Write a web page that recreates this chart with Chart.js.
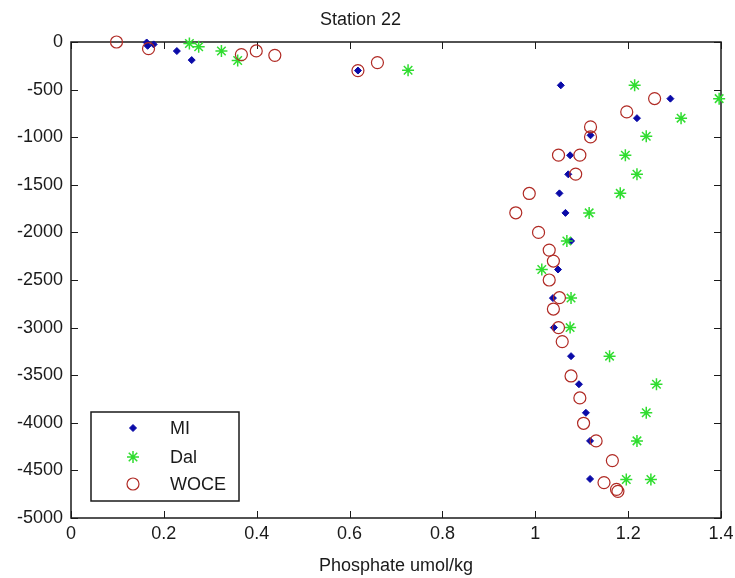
<!DOCTYPE html>
<html>
<head>
<meta charset="utf-8">
<title>Station 22</title>
<script src="https://cdn.jsdelivr.net/npm/chart.js@4.4.1/dist/chart.umd.min.js"></script>
<style>
  html, body { margin: 0; padding: 0; background: #fff; }
  canvas { display: block; }
</style>
</head>
<body>
<canvas id="myChart" width="735" height="578"></canvas>
<script>
// values (phosphate umol/kg vs depth)
const miX = [0.163, 0.165, 0.178, 0.228, 0.260, 0.618, 1.055, 1.291, 1.219, 1.119, 1.075, 1.071, 1.052, 1.065, 1.077, 1.049, 1.038, 1.040, 1.077, 1.094, 1.109, 1.118, 1.118];
const miY = [-5, -40, -25, -95, -190, -300, -455, -595, -800, -980, -1190, -1390, -1590, -1795, -2090, -2390, -2690, -3000, -3300, -3595, -3895, -4190, -4590];

const dalX = [0.255, 0.275, 0.324, 0.359, 0.726, 1.214, 1.396, 1.314, 1.239, 1.194, 1.219, 1.183, 1.116, 1.068, 1.014, 1.077, 1.075, 1.160, 1.261, 1.239, 1.219, 1.196, 1.249];
const dalY = [-15, -50, -95, -195, -297, -455, -595, -800, -990, -1190, -1390, -1590, -1795, -2090, -2390, -2690, -3000, -3300, -3595, -3895, -4190, -4595, -4595];

const woceX = [0.098, 0.167, 0.367, 0.399, 0.439, 0.618, 0.660, 1.257, 1.197, 1.119, 1.119, 1.050, 1.096, 1.087, 0.987, 0.958, 1.007, 1.030, 1.039, 1.030, 1.052, 1.039, 1.050, 1.058, 1.077, 1.096, 1.104, 1.131, 1.166, 1.148, 1.175, 1.178];
const woceY = [0, -70, -132, -94, -140, -300, -216, -594, -734, -892, -997, -1189, -1189, -1388, -1591, -1794, -2000, -2186, -2301, -2500, -2686, -2805, -3000, -3147, -3508, -3739, -4005, -4190, -4397, -4628, -4700, -4720];

const xTicks = [0, 0.2, 0.4, 0.6, 0.8, 1, 1.2, 1.4];
const yTicks = [0, -500, -1000, -1500, -2000, -2500, -3000, -3500, -4000, -4500, -5000];

const FONT = "'Liberation Sans', Arial, sans-serif";
const INK = '#1a1a1a';

function pairs(xs, ys) {
  return xs.map((x, i) => ({ x: x, y: ys[i] }));
}

// matlab style box with inward ticks on all four sides
const boxPlugin = {
  id: 'boxPlugin',
  beforeDatasetsDraw(chart) {
    const { ctx, chartArea: a, scales } = chart;
    const len = 7;
    ctx.save();
    ctx.strokeStyle = INK;
    ctx.lineWidth = 1;
    ctx.beginPath();
    xTicks.forEach(v => {
      const px = Math.round(scales.x.getPixelForValue(v)) + 0.5;
      ctx.moveTo(px, a.bottom); ctx.lineTo(px, a.bottom - len);
      ctx.moveTo(px, a.top); ctx.lineTo(px, a.top + len);
    });
    yTicks.forEach(v => {
      const py = Math.round(scales.y.getPixelForValue(v)) + 0.5;
      ctx.moveTo(a.left, py); ctx.lineTo(a.left + len, py);
      ctx.moveTo(a.right, py); ctx.lineTo(a.right - len, py);
    });
    ctx.stroke();
    ctx.lineWidth = 1.5;
    ctx.strokeRect(a.left, a.top, a.right - a.left, a.bottom - a.top);
    ctx.restore();
  }
};

// legend box in lower left of the axes
const legendPlugin = {
  id: 'legendPlugin',
  afterDraw(chart) {
    const { ctx, chartArea: a } = chart;
    const left = a.left + 20, top = a.bottom - 106, w = 148, h = 89;
    ctx.save();
    ctx.fillStyle = '#fff';
    ctx.fillRect(left, top, w, h);
    ctx.strokeStyle = INK;
    ctx.lineWidth = 1.5;
    ctx.strokeRect(left, top, w, h);
    const rows = [16, 45, 72];
    chart.data.datasets.forEach((ds, i) => {
      const y = top + rows[i];
      ctx.fillStyle = ds.backgroundColor;
      ctx.strokeStyle = ds.borderColor;
      ctx.lineWidth = ds.borderWidth;
      Chart.helpers.drawPoint(ctx, {
        pointStyle: ds.pointStyle,
        radius: ds.pointRadius,
        rotation: 0,
        borderWidth: ds.borderWidth
      }, left + 42, y);
      ctx.fillStyle = INK;
      ctx.font = '18px ' + FONT;
      ctx.textBaseline = 'middle';
      ctx.textAlign = 'left';
      ctx.fillText(ds.label, left + 79, y + 1);
    });
    ctx.restore();
  }
};

const ctx = document.getElementById('myChart').getContext('2d');
const myChart = new Chart(ctx, {
  type: 'scatter',
  data: {
    datasets: [{
      label: 'MI',
      data: pairs(miX, miY),
      pointStyle: 'rectRot',
      pointRadius: 3.5,
      backgroundColor: '#0a0aa8',
      borderColor: '#0a0aa8',
      borderWidth: 1,
      order: 3,
      clip: false
    }, {
      label: 'Dal',
      data: pairs(dalX, dalY),
      pointStyle: 'star',
      pointRadius: 6,
      backgroundColor: '#30dd30',
      borderColor: '#30dd30',
      borderWidth: 1.5,
      order: 2,
      clip: false
    }, {
      label: 'WOCE',
      data: pairs(woceX, woceY),
      pointStyle: 'circle',
      pointRadius: 6,
      backgroundColor: 'rgba(0,0,0,0)',
      borderColor: '#b02a24',
      borderWidth: 1.2,
      order: 1,
      clip: false
    }]
  },
  options: {
    responsive: false,
    animation: false,
    devicePixelRatio: 1,
    layout: { padding: { left: 0, right: 14, top: 0, bottom: 0 } },
    plugins: {
      legend: { display: false },
      tooltip: { enabled: false },
      title: {
        display: true,
        text: 'Station 22',
        color: INK,
        font: { family: FONT, size: 18, weight: 'normal' },
        padding: { top: 9, bottom: 11.4 }
      }
    },
    scales: {
      x: {
        type: 'linear',
        min: 0,
        max: 1.4,
        afterBuildTicks: s => { s.ticks = xTicks.map(v => ({ value: v })); },
        afterFit: s => { s.height = 60; s.paddingRight = 0; s.paddingLeft = 0; },
        grid: { display: false, drawTicks: false },
        border: { display: false },
        ticks: {
          color: INK,
          padding: 5,
          maxRotation: 0,
          font: { family: FONT, size: 18 },
          callback: v => String(Math.round(v * 10) / 10)
        },
        title: {
          display: true,
          text: 'Phosphate umol/kg',
          color: INK,
          font: { family: FONT, size: 18 },
          padding: { top: 0, bottom: 1 }
        }
      },
      y: {
        type: 'linear',
        min: -5000,
        max: 0,
        afterBuildTicks: s => { s.ticks = yTicks.map(v => ({ value: v })); },
        afterFit: s => { s.width = 71; },
        grid: { display: false, drawTicks: false },
        border: { display: false },
        ticks: {
          color: INK,
          padding: 8,
          font: { family: FONT, size: 18 },
          callback: v => String(v)
        }
      }
    }
  },
  plugins: [boxPlugin, legendPlugin]
});
</script>
</body>
</html>
